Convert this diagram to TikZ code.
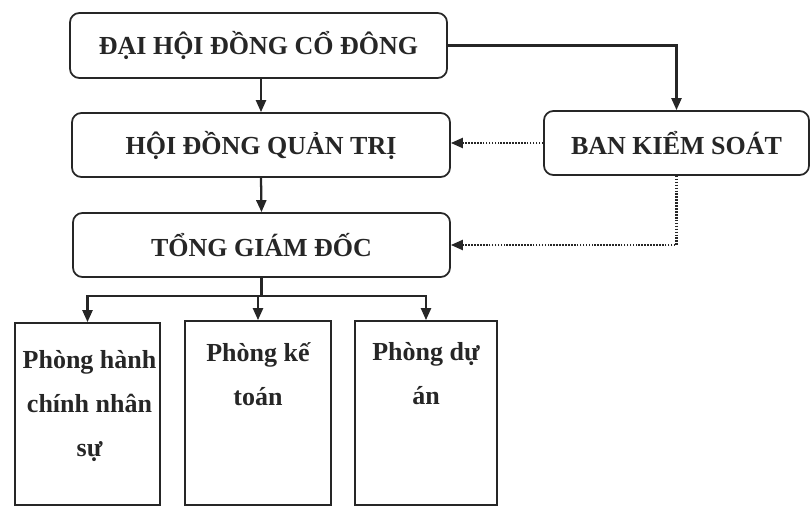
\documentclass[tikz,border=0pt]{standalone}
\usepackage{fontspec}
\setmainfont{Liberation Serif}
\usetikzlibrary{arrows.meta,calc}
\begin{document}
\begin{tikzpicture}[x=0.75pt,y=-0.75pt,
  topbox/.style={draw=black!85,line width=1.3pt,rounded corners=7pt,inner sep=0pt,
    font=\fontsize{19.5}{22}\selectfont\bfseries,text=black!85},
  deptbox/.style={draw=black!85,line width=1.3pt,inner sep=0pt},
  depttext/.style={font=\fontsize{19.5}{33}\selectfont\bfseries,text=black!85,align=center,anchor=north,inner sep=0pt},
  arr/.style={draw=black!85,line width=1.7pt,-{Triangle[length=9pt,width=7.5pt]}},
  darr/.style={draw=black!85,line width=1.7pt,dash pattern=on 1.2pt off 1pt,-{Triangle[length=9pt,width=7.5pt]}}]
\useasboundingbox (0,0) rectangle (811,510);
\node[topbox,minimum width=377*0.75pt,minimum height=65*0.75pt] (dh) at (258.5,45.5) {ĐẠI HỘI ĐỒNG CỔ ĐÔNG};
\node[topbox,minimum width=378*0.75pt,minimum height=64*0.75pt] (hd) at (261,145) {HỘI ĐỒNG QUẢN TRỊ};
\node[topbox,minimum width=265*0.75pt,minimum height=64*0.75pt] (bks) at (676.5,143) {BAN KIỂM SOÁT};
\node[topbox,minimum width=377*0.75pt,minimum height=64*0.75pt] (tg) at (261.5,245) {TỔNG GIÁM ĐỐC};
\node[deptbox,minimum width=145*0.75pt,minimum height=182*0.75pt] (p1) at (87.5,414) {};
\node[deptbox,minimum width=146*0.75pt,minimum height=184*0.75pt] (p2) at (258,413) {};
\node[deptbox,minimum width=142*0.75pt,minimum height=184*0.75pt] (p3) at (426,413) {};
\node[depttext] (t1) at ($(p1.north)+(2,28)$) {Phòng hành\\chính nhân\\sự};
\node[depttext] (t2) at ($(p2.north)+(0,22)$) {Phòng kế\\toán};
\node[depttext] (t3) at ($(p3.north)+(0,22)$) {Phòng dự\\án};
\draw[arr] (dh.south -| hd.north) -- (hd.north);
\draw[arr] (hd.south) -- (tg.north);
\draw[arr] (dh.east) -| (bks.north);
\draw[darr] (bks.west) -- (bks.west -| hd.east);
\draw[darr] (bks.south) |- (tg.east);
\coordinate (bus) at ($(tg.south)+(0,18)$);
\draw[arr] (tg.south) -- (bus) -| (p1.north);
\draw[arr] (bus) -| (p3.north);
\draw[arr] (bus -| p2.north) -- (p2.north);
\end{tikzpicture}
\end{document}
